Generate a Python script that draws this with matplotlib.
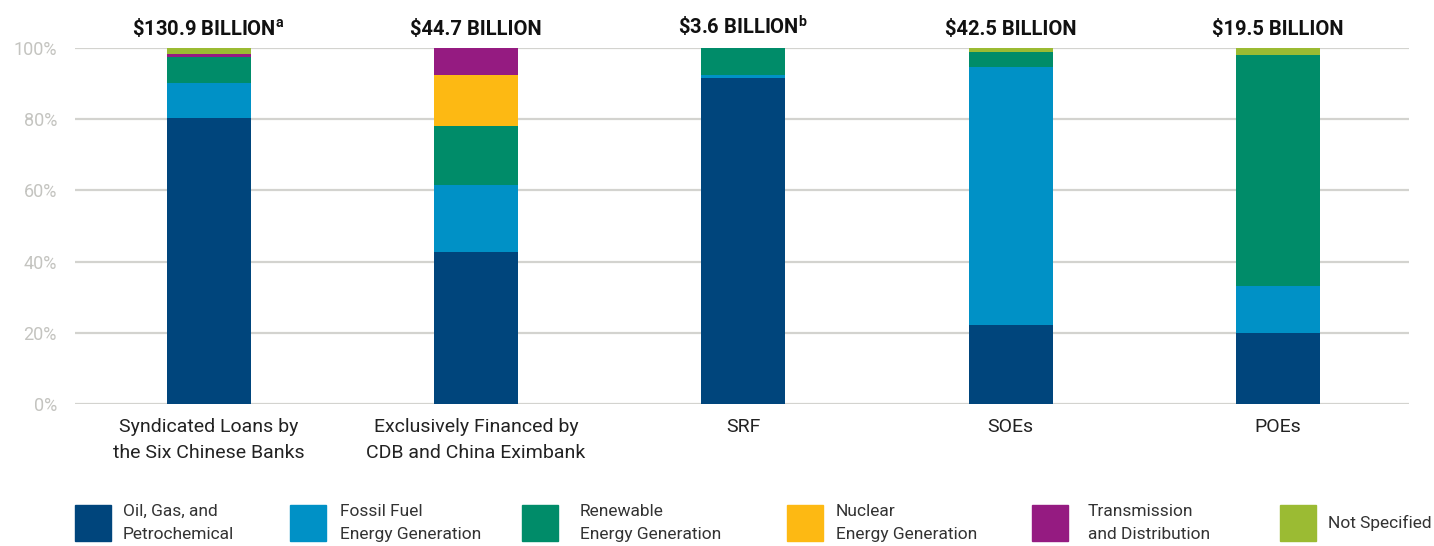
import matplotlib
matplotlib.use("Agg")
import matplotlib.pyplot as plt
from matplotlib.patches import Rectangle
import numpy as np

plt.rcParams["font.family"] = ["Roboto", "DejaVu Sans"]
plt.rcParams["mathtext.fontset"] = "custom"
plt.rcParams["mathtext.bf"] = "Roboto:bold"

categories = [
    "Syndicated Loans by\nthe Six Chinese Banks",
    "Exclusively Financed by\nCDB and China Eximbank",
    "SRF",
    "SOEs",
    "POEs",
]
totals = ["$130.9 BILLION", "$44.7 BILLION", "$3.6 BILLION", "$42.5 BILLION", "$19.5 BILLION"]
notes = ["a", "", "b", "", ""]

sectors = [
    "Oil, Gas, and\nPetrochemical",
    "Fossil Fuel\nEnergy Generation",
    "Renewable\nEnergy Generation",
    "Nuclear\nEnergy Generation",
    "Transmission\nand Distribution",
    "Not Specified",
]
oil = [80.2, 42.6, 91.6, 22.3, 20.0]
fossil = [10.0, 18.8, 0.8, 72.4, 13.2]
renewable = [7.4, 16.6, 7.6, 4.2, 64.9]
nuclear = [0.0, 14.5, 0.0, 0.0, 0.0]
transmission = [0.6, 7.5, 0.0, 0.0, 0.0]
not_specified = [1.8, 0.0, 0.0, 1.1, 1.9]
yticks = [0, 20, 40, 60, 80, 100]

colors = ["#00457C", "#0091C6", "#008C69", "#FDB913", "#951B81", "#9BBB33"]
series = [oil, fossil, renewable, nuclear, transmission, not_specified]

fig = plt.figure(figsize=(14.34, 5.46), dpi=100)
ax = fig.add_axes([75 / 1434, 1 - 404 / 546, (1409 - 75) / 1434, (404 - 48) / 546])

x = np.arange(len(categories))
bottom = np.zeros(len(categories))
for vals, c in zip(series, colors):
    ax.bar(x, vals, 0.315, bottom=bottom, color=c, zorder=3)
    bottom += np.array(vals)

ax.set_xlim(-0.5, 4.49)
ax.set_ylim(0, 100)
ax.set_yticks(yticks)
ax.set_yticklabels([f"{v}%" for v in yticks], color="#c4c4c0", fontsize=13)
ax.set_xticks(x)
ax.set_xticklabels(categories, fontsize=14, color="#222222", linespacing=1.6)
ax.tick_params(axis="both", length=0)
ax.tick_params(axis="x", pad=10)
ax.tick_params(axis="y", pad=13)
ax.grid(axis="y", color="#d3d3cf", linewidth=1.6, zorder=0)
for s in ax.spines.values():
    s.set_visible(False)

# totals above bars
for i, (t, n) in enumerate(zip(totals, notes)):
    label = t.replace("$", r"\$")
    if n:
        label += r"$^{\mathbf{" + n + "}}$"
    ax.text(i, 102.5, label, ha="center", va="bottom", fontsize=14.5,
            fontweight="bold", color="#111111")

# legend
sq_x = [75, 290, 522, 787, 1032, 1280]
tx_x = [123, 340, 580, 836, 1088, 1328]
for name, c, sx, tx in zip(sectors, colors, sq_x, tx_x):
    fig.add_artist(Rectangle((sx / 1434, 1 - 541 / 546), 36 / 1434, 36 / 546,
                             transform=fig.transFigure, color=c))
    fig.text(tx / 1434, 1 - 523 / 546, name, ha="left", va="center",
             fontsize=12.5, color="#333333", linespacing=1.7)

fig.savefig("out.png", dpi=100)
